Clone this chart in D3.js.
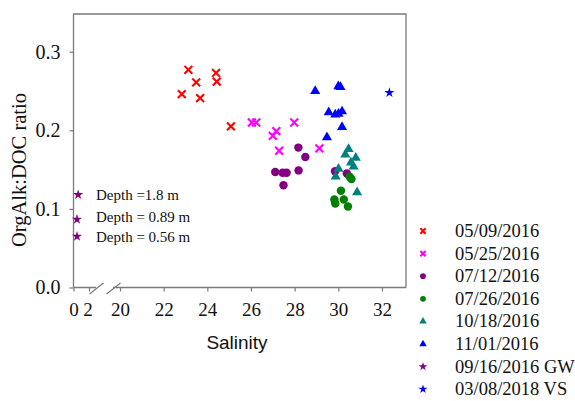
<!DOCTYPE html>
<html>
<head>
<meta charset="utf-8">
<script src="https://cdn.jsdelivr.net/npm/d3@7"></script>
<style>
  body { margin: 0; background: #fff; }
  svg { display: block; }
  text { font-family: "Liberation Serif", "Times New Roman", serif; fill: #111; }
  .tick text { font-family: "Liberation Serif", "Times New Roman", serif !important; }
</style>
</head>
<body>
<svg id="svg" width="575" height="401"></svg>
<script>
// salinity, OrgAlk:DOC ratio
const may09 = [[23.13,0.277],[24.4,0.273],[23.49,0.261],[24.43,0.262],[22.83,0.246],[23.67,0.241],[25.08,0.205]]
const may25 = [[26.04,0.21],[26.24,0.21],[27.98,0.21],[27.16,0.199],[27.0,0.193],[27.29,0.174],[29.13,0.177]]
const jul12 = [[28.17,0.178],[28.49,0.166],[27.11,0.147],[27.45,0.146],[27.63,0.146],[28.18,0.149],[27.49,0.13],[29.85,0.148],[30.39,0.145]]
const jul26 = [[30.52,0.141],[30.6,0.138],[30.12,0.123],[30.25,0.112],[29.82,0.112],[29.86,0.107],[30.44,0.103]]
const oct18 = [[30.47,0.176],[30.8,0.165],[30.32,0.169],[30.58,0.159],[30.7,0.154],[30.01,0.151],[29.88,0.141],[30.86,0.121]]
const nov01 = [[28.94,0.25],[30.0,0.256],[30.1,0.255],[29.56,0.223],[29.86,0.22],[30.01,0.221],[30.17,0.224],[30.17,0.204],[29.48,0.191]]
const gw = [[0.6,0.118],[0.45,0.0866],[0.45,0.065]]
const gwLabels = ["Depth =1.8 m", "Depth = 0.89 m", "Depth = 0.56 m"]
const vs = [[32.34,0.248]]

const yTicks = [0, 0.1, 0.2, 0.3]
const xTicksLow = [0, 2]
const xTicksHigh = [20, 22, 24, 26, 28, 30, 32]

const series = [
  {name: "05/09/2016", data: may09, color: "#ff0000", shape: "x"},
  {name: "05/25/2016", data: may25, color: "#ff00ff", shape: "x"},
  {name: "07/12/2016", data: jul12, color: "#800080", shape: "circle"},
  {name: "07/26/2016", data: jul26, color: "#008000", shape: "circle"},
  {name: "10/18/2016", data: oct18, color: "#008080", shape: "triangle"},
  {name: "11/01/2016", data: nov01, color: "#0000ff", shape: "triangle"},
  {name: "09/16/2016 GW", data: gw, color: "#800080", shape: "star"},
  {name: "03/08/2018 VS", data: vs, color: "#0000ff", shape: "star"}
]

const svg = d3.select("#svg")
const mLeft = 73.5, mRight = 406, mTop = 14, mBottom = 287.5

// broken x axis: 0-2 squeezed, then 20-33
const xLow = d3.scaleLinear().domain([0, 2]).range([mLeft, 89])
const xHigh = d3.scaleLinear().domain([20, 33.1]).range([120, mRight])
const x = s => s < 10 ? xLow(s) : xHigh(s)
const y = d3.scaleLinear().domain([0, 0.348]).range([mBottom, mTop])

const frame = "#7a7a7a"

// frame
svg.append("path")
  .attr("d", `M${mLeft},${mBottom}V${mTop}H${mRight}V${mBottom}`)
  .attr("fill", "none").attr("stroke", frame).attr("stroke-width", 1.3)

// bottom axis line with break
svg.append("path")
  .attr("d", `M${mLeft},${mBottom}H96 M113,${mBottom}H${mRight}`)
  .attr("fill", "none").attr("stroke", frame).attr("stroke-width", 1.3)
svg.append("path")
  .attr("d", `M89.5,294L103.5,283 M106.5,294L120.5,283`)
  .attr("fill", "none").attr("stroke", frame).attr("stroke-width", 1.2)

function styleAxis(g) {
  g.attr("font-family", null).attr("font-size", null)
  g.select(".domain").remove()
  g.selectAll(".tick line").attr("stroke", frame).attr("stroke-width", 1.2)
  g.selectAll(".tick text").attr("fill", "#111")
}

svg.append("g").attr("transform", `translate(0,${mBottom})`)
  .call(d3.axisBottom(xLow).tickValues(xTicksLow).tickSize(4).tickPadding(11).tickFormat(d3.format("d")))
  .call(styleAxis)
  .selectAll("text").style("font-size", "19px")
  .attr("dx", d => d === 2 ? -1.5 : 0)

svg.append("g").attr("transform", `translate(0,${mBottom})`)
  .call(d3.axisBottom(xHigh).tickValues(xTicksHigh).tickSize(4).tickPadding(11).tickFormat(d3.format("d")))
  .call(styleAxis)
  .selectAll("text").style("font-size", "19px")

svg.append("g").attr("transform", `translate(${mLeft},0)`)
  .call(d3.axisLeft(y).tickValues(yTicks).tickSize(4).tickPadding(9).tickFormat(d3.format(".1f")))
  .call(styleAxis)
  .selectAll("text").style("font-size", "20px")

// axis titles
svg.append("text")
  .attr("transform", "translate(26,170) rotate(-90)")
  .attr("text-anchor", "middle")
  .style("font-size", "20.5px")
  .text("OrgAlk:DOC ratio")

svg.append("text")
  .attr("x", 237).attr("y", 349)
  .attr("text-anchor", "middle")
  .style("font-family", "Liberation Sans")
  .style("font-size", "19px")
  .text("Salinity")

// marker shapes
const sym = {
  circle: d3.symbol(d3.symbolCircle, 56),
  triangle: d3.symbol(d3.symbolTriangle, 44),
  star: d3.symbol(d3.symbolStar, 32),
  x: d3.symbol(d3.symbolTimes, 42)
}
const symSmall = {
  circle: d3.symbol(d3.symbolCircle, 26),
  triangle: d3.symbol(d3.symbolTriangle, 24),
  star: d3.symbol(d3.symbolStar, 24),
  x: d3.symbol(d3.symbolTimes, 20)
}

function drawMarker(sel, shape, color, gen) {
  sel.attr("d", gen[shape])
  if (shape === "x") {
    sel.attr("fill", "none").attr("stroke", color).attr("stroke-width", 2.1)
  } else {
    sel.attr("fill", color).attr("stroke", "none")
  }
}

const plot = svg.append("g")
series.forEach(s => {
  plot.append("g").selectAll("path")
    .data(s.data)
    .join("path")
    .attr("transform", d => `translate(${x(d[0])},${y(d[1])})`)
    .call(drawMarker, s.shape, s.color, sym)
})

// depth labels next to GW stars
svg.append("g").selectAll("text")
  .data(gw)
  .join("text")
  .attr("x", 96)
  .attr("y", (d, i) => [200, 221.5, 242][i])
  .style("font-size", "15px")
  .text((d, i) => gwLabels[i])

// legend
const legend = svg.append("g")
const row = legend.selectAll("g")
  .data(series)
  .join("g")
  .attr("transform", (d, i) => `translate(423,${231 + i * 22.6})`)
row.append("path").each(function(d) { d3.select(this).call(drawMarker, d.shape, d.color, symSmall) })
row.append("text")
  .attr("x", 32).attr("y", 6)
  .style("font-size", "18.5px")
  .text(d => d.name)
</script>
</body>
</html>
